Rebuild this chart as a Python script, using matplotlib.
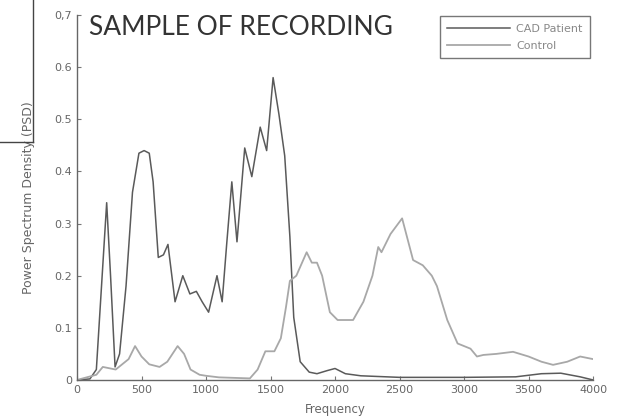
import matplotlib.pyplot as plt
from matplotlib.lines import Line2D

# Donnees
cad_freq = [0, 100, 150, 200, 230, 260, 295, 330, 380, 430, 480, 520, 560, 590,
            630, 670, 705, 760, 820, 875, 925, 970, 1020, 1085, 1125, 1160,
            1200, 1240, 1300, 1355, 1420, 1470, 1520, 1565, 1610, 1650, 1680,
            1730, 1800, 1860, 1940, 2000, 2080, 2200, 2500, 3000, 3400, 3600,
            3750, 3900, 4000]
cad_psd = [0.0, 0.002, 0.02, 0.22, 0.34, 0.2, 0.025, 0.05, 0.18, 0.36, 0.435,
           0.44, 0.435, 0.38, 0.235, 0.24, 0.26, 0.15, 0.2, 0.165, 0.17, 0.15,
           0.13, 0.2, 0.15, 0.26, 0.38, 0.265, 0.445, 0.39, 0.485, 0.44, 0.58,
           0.51, 0.43, 0.275, 0.12, 0.035, 0.015, 0.012, 0.018, 0.022, 0.012,
           0.008, 0.005, 0.005, 0.006, 0.012, 0.013, 0.006, 0.0]

ctrl_freq = [0, 150, 200, 300, 350, 400, 450, 500, 560, 640, 700, 780, 830,
             880, 950, 1000, 1100, 1340, 1400, 1460, 1530, 1580, 1620, 1650,
             1700, 1780, 1820, 1860, 1900, 1960, 2020, 2140, 2220, 2290, 2335,
             2360, 2430, 2520, 2605, 2680, 2750, 2790, 2870, 2950, 3050, 3100,
             3150, 3250, 3380, 3500, 3600, 3690, 3800, 3900, 4000]
ctrl_psd = [0.0, 0.01, 0.025, 0.02, 0.03, 0.04, 0.065, 0.045, 0.03, 0.025,
            0.035, 0.065, 0.05, 0.02, 0.01, 0.008, 0.005, 0.003, 0.02, 0.055,
            0.055, 0.08, 0.14, 0.19, 0.2, 0.245, 0.225, 0.225, 0.2, 0.13, 0.115,
            0.115, 0.15, 0.2, 0.255, 0.245, 0.28, 0.31, 0.23, 0.22, 0.2, 0.18,
            0.115, 0.07, 0.06, 0.045, 0.048, 0.05, 0.054, 0.045, 0.035, 0.029,
            0.035, 0.045, 0.04]

x_ticks = [0, 500, 1000, 1500, 2000, 2500, 3000, 3500, 4000]
y_ticks = [0, 0.1, 0.2, 0.3, 0.4, 0.5, 0.6, 0.7]
y_labels = ["0", "0.1", "0.2", "0.3", "0.4", "0.5", "0.6", "0,7"]

fig = plt.figure(figsize=(6.21, 4.18), dpi=100)
ax = fig.add_axes([0.124, 0.091, 0.831, 0.873])

ax.plot(cad_freq, cad_psd, color="#5a5a5a", lw=1.1, label="CAD Patient")
ax.plot(ctrl_freq, ctrl_psd, color="#a8a8a8", lw=1.3, label="Control")

ax.set_xlim(0, 4000)
ax.set_ylim(0, 0.7)
ax.set_xticks(x_ticks)
ax.set_yticks(y_ticks)
ax.set_yticklabels(y_labels)
ax.tick_params(direction="in", length=3, labelsize=8, colors="#777777",
               labelcolor="#666666")
for s in ["top", "right"]:
    ax.spines[s].set_visible(False)
for s in ["left", "bottom"]:
    ax.spines[s].set_color("#666666")
    ax.spines[s].set_linewidth(1.0)

ax.set_xlabel("Frequency", fontsize=8.5, color="#666666", labelpad=6)
ax.set_ylabel("Power Spectrum Density (PSD)", fontsize=9, color="#666666",
              labelpad=14)

ax.text(95, 0.7, "SAMPLE OF RECORDING", fontsize=19, family="Lato",
        color="#333333", va="top", ha="left")

leg = ax.legend(loc="upper right", bbox_to_anchor=(0.997, 1.0), fontsize=8,
                handlelength=5.6, frameon=True, fancybox=False,
                borderpad=0.7, labelspacing=0.6, handletextpad=0.6,
                borderaxespad=0.1)
leg.get_frame().set_edgecolor("#555555")
leg.get_frame().set_linewidth(1.0)
for t in leg.get_texts():
    t.set_color("#888888")

# traits parasites en haut a gauche
fig.add_artist(Line2D([33 / 621, 33 / 621], [1.0, 1 - 142 / 418],
                      color="#444444", lw=1.0))
fig.add_artist(Line2D([0, 33 / 621], [1 - 142 / 418, 1 - 142 / 418],
                      color="#444444", lw=1.0))

fig.savefig("out.png", dpi=100)
